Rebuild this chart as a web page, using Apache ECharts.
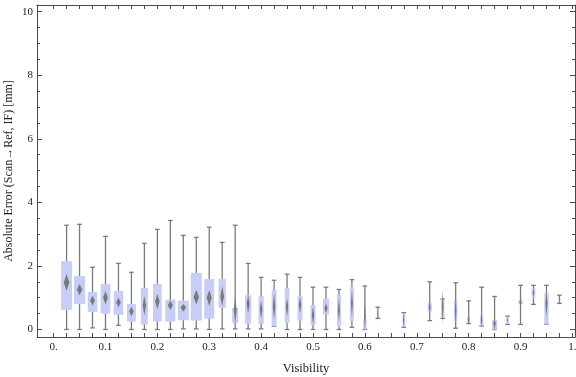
<!DOCTYPE html>
<html>
<head>
<meta charset="utf-8">
<script src="https://cdn.jsdelivr.net/npm/echarts@6/dist/echarts.min.js"></script>
<style>html,body{margin:0;padding:0;background:#fff}#c{width:576px;height:377px}</style>
</head>
<body>
<div id="c"></div>
<script>
// Bin centers (visibility); 0.65 and 0.7 are empty
const visibility = [0.025,0.05,0.075,0.1,0.125,0.15,0.175,0.2,0.225,0.25,0.275,0.3,0.325,0.35,0.375,0.4,0.425,0.45,0.475,0.5,0.525,0.55,0.575,0.6,0.625,0.675,0.725,0.75,0.775,0.8,0.825,0.85,0.875,0.9,0.925,0.95,0.975];
const whiskerLow = [0,0,0.05,0,0.13,0,0,0,0,0.02,0.02,0,0.02,0.02,0.02,0.02,0.10,0,0,0,0,0,0.07,0,0.35,0.07,0.28,0.35,0.04,0.19,0.11,0,0.16,0.16,0.79,0.17,0.82];
const quartile1 = [0.62,0.80,0.55,0.50,0.46,0.25,0.15,0.25,0.25,0.29,0.28,0.34,0.69,0.21,0.18,0.18,0.10,0.20,0.28,0.15,0.47,0.09,0.27,0.0,0.40,0.09,0.56,0.36,0.25,0.20,0.12,0.0,0.18,0.80,1.01,0.17,0.89];
const quartile3 = [2.15,1.68,1.18,1.43,1.21,0.80,1.31,1.43,0.94,0.91,1.78,1.59,1.59,0.68,1.08,1.05,1.24,1.31,1.05,0.77,0.96,1.08,1.34,0.32,0.66,0.51,0.84,0.95,0.93,0.40,0.45,0.30,0.40,0.91,1.30,1.14,0.96];
const whiskerHigh = [3.28,3.31,1.96,2.93,2.08,1.80,2.71,3.15,3.43,2.96,2.90,3.22,2.74,3.28,2.08,1.64,1.55,1.74,1.64,1.33,1.33,1.26,1.57,1.37,0.70,0.53,1.50,0.96,1.47,0.90,1.33,1.04,0.42,1.39,1.39,1.39,1.08];
const meanValue = [1.48,1.26,0.91,1.01,0.86,0.57,0.76,0.89,0.76,0.69,1.02,1.00,1.05,0.61,0.81,0.63,0.72,0.72,0.77,0.46,0.67,0.61,0.82,0.42,0.50,0.30,0.70,0.72,0.61,0.32,0.30,0.20,0.30,0.86,1.16,0.82,0.93];
const meanCILow = [1.22,1.08,0.75,0.79,0.70,0.42,0.45,0.64,0.61,0.56,0.79,0.75,0.74,0.19,0.51,0.35,0.30,0.40,0.51,0.17,0.51,0.25,0.40,-0.05,0.25,0.05,0.51,0.18,0.09,0.10,0.05,0.0,0.22,0.70,1.03,0.40,0.88];
const meanCIHigh = [1.75,1.43,1.06,1.21,1.00,0.72,1.05,1.12,0.91,0.80,1.24,1.24,1.37,1.03,1.08,0.91,1.15,0.99,1.03,0.72,0.82,0.99,1.24,0.90,0.78,0.55,0.87,1.22,1.08,0.50,0.55,0.32,0.38,1.02,1.30,1.24,0.98];
// relative sample weight of each bin
const binWeight = [1.0,1.0,0.85,0.88,0.85,0.82,0.64,0.79,0.91,1.0,1.0,0.91,0.66,0.55,0.55,0.48,0.45,0.43,0.45,0.45,0.55,0.36,0.36,0.30,0.21,0.25,0.36,0.30,0.30,0.27,0.27,0.45,0.21,0.36,0.34,0.39,0.21];

const xLabelValues = [0,0.1,0.2,0.3,0.4,0.5,0.6,0.7,0.8,0.9,1];
const xTickLabels = ["0.","0.1","0.2","0.3","0.4","0.5","0.6","0.7","0.8","0.9","1."];
const xTickValues = [0,0.025,0.05,0.075,0.1,0.125,0.15,0.175,0.2,0.225,0.25,0.275,0.3,0.325,0.35,0.375,0.4,0.425,0.45,0.475,0.5,0.525,0.55,0.575,0.6,0.625,0.65,0.675,0.7,0.725,0.75,0.775,0.8,0.825,0.85,0.875,0.9,0.925,0.95,0.975,1];
const yMajorValues = [0,2,4,6,8,10];
const yMinorValues = [0.5,1,1.5,2.5,3,3.5,4.5,5,5.5,6.5,7,7.5,8.5,9,9.5];

const XMIN = -0.032, XMAX = 1.005, YMIN = -0.236, YMAX = 10.21;
const BOX_W = 0.0212, CAP_W = 0.009;
const FONT = '"Liberation Serif", "DejaVu Serif", serif';
const FRAME = '#4a4a4a';
const BOX_FILL = '#c6cdf6';
const WHISKER = '#7a7a7a';
const DIAMOND = '#7a7a7a';

const data = visibility.map((v, i) => [v, whiskerLow[i], quartile1[i], quartile3[i], whiskerHigh[i], meanValue[i], meanCILow[i], meanCIHigh[i], binWeight[i]]);

function renderItem(params, api) {
  const x = api.value(0);
  const lo = api.coord([x, api.value(1)]);
  const q1 = api.coord([x, api.value(2)]);
  const q3 = api.coord([x, api.value(3)]);
  const hi = api.coord([x, api.value(4)]);
  const mn = api.coord([x, api.value(5)]);
  const cl = api.coord([x, api.value(6)]);
  const ch = api.coord([x, api.value(7)]);
  const w = api.value(8);
  const boxW = api.size([BOX_W * w, 0])[0];
  const capW = api.size([CAP_W, 0])[0];
  const dW = boxW * 0.5;
  const cx = lo[0];
  const lineStyle = {stroke: WHISKER, lineWidth: 1.3};
  return {
    type: 'group',
    children: [
      {type: 'line', shape: {x1: cx, y1: lo[1], x2: cx, y2: hi[1]}, style: lineStyle},
      {type: 'line', shape: {x1: cx - capW / 2, y1: lo[1], x2: cx + capW / 2, y2: lo[1]}, style: lineStyle},
      {type: 'line', shape: {x1: cx - capW / 2, y1: hi[1], x2: cx + capW / 2, y2: hi[1]}, style: lineStyle},
      {type: 'rect', shape: {x: cx - boxW / 2, y: q3[1], width: boxW, height: q1[1] - q3[1]}, style: {fill: BOX_FILL}},
      {type: 'polygon', shape: {points: [[cx, ch[1]], [cx + dW / 2, mn[1]], [cx, cl[1]], [cx - dW / 2, mn[1]]]}, style: {fill: DIAMOND}}
    ]
  };
}

const chart = echarts.init(document.getElementById('c'), null, {renderer: 'canvas'});
const frameLine = {show: true, onZero: false, lineStyle: {color: FRAME, width: 1}};
const noLine = {show: false, onZero: false};
chart.setOption({
  animation: false,
  backgroundColor: '#fff',
  grid: {left: 37, right: 1, top: 5, bottom: 40, containLabel: false, outerBoundsMode: 'none'},
  xAxis: [
    {
      type: 'value', position: 'bottom', min: XMIN, max: XMAX,
      axisLine: frameLine,
      axisTick: {show: true, inside: true, length: 4, customValues: xTickValues, lineStyle: {color: FRAME}},
      axisLabel: {
        show: true, customValues: xLabelValues, margin: 5,
        fontFamily: FONT, fontSize: 11, color: '#222',
        formatter: function (v) {
          const i = xLabelValues.findIndex(t => Math.abs(t - v) < 1e-6);
          return i >= 0 ? xTickLabels[i] : '';
        }
      },
      splitLine: {show: false},
      name: 'Visibility', nameLocation: 'middle', nameGap: 25, nameMoveOverlap: false,
      nameTextStyle: {fontFamily: FONT, fontSize: 12.5, color: '#222'}
    },
    {
      type: 'value', position: 'top', min: XMIN, max: XMAX,
      axisLine: frameLine,
      axisTick: {show: true, inside: true, length: 4, customValues: xTickValues, lineStyle: {color: FRAME}},
      axisLabel: {show: false}, splitLine: {show: false}
    }
  ],
  yAxis: [
    {
      type: 'value', position: 'left', min: YMIN, max: YMAX,
      axisLine: frameLine,
      axisTick: {show: true, inside: true, length: 5, customValues: yMajorValues, lineStyle: {color: FRAME}},
      axisLabel: {show: true, customValues: yMajorValues, margin: 4, fontFamily: FONT, fontSize: 11, color: '#222'},
      splitLine: {show: false},
      name: 'Absolute Error (Scan\u2192Ref, IF) [mm]', nameLocation: 'middle', nameGap: 22, nameRotate: 90, nameMoveOverlap: false,
      nameTextStyle: {fontFamily: FONT, fontSize: 12, color: '#222'}
    },
    {
      type: 'value', position: 'left', min: YMIN, max: YMAX,
      axisLine: noLine,
      axisTick: {show: true, inside: true, length: 3, customValues: yMinorValues, lineStyle: {color: FRAME}},
      axisLabel: {show: false}, splitLine: {show: false}
    },
    {
      type: 'value', position: 'right', min: YMIN, max: YMAX,
      axisLine: frameLine,
      axisTick: {show: true, inside: true, length: 5, customValues: yMajorValues, lineStyle: {color: FRAME}},
      axisLabel: {show: false}, splitLine: {show: false}
    },
    {
      type: 'value', position: 'right', min: YMIN, max: YMAX,
      axisLine: noLine,
      axisTick: {show: true, inside: true, length: 3, customValues: yMinorValues, lineStyle: {color: FRAME}},
      axisLabel: {show: false}, splitLine: {show: false}
    }
  ],
  series: [{
    type: 'custom',
    xAxisIndex: 0, yAxisIndex: 0,
    renderItem: renderItem,
    encode: {x: 0, y: [1, 2, 3, 4]},
    data: data,
    clip: true
  }]
});
</script>
</body>
</html>
